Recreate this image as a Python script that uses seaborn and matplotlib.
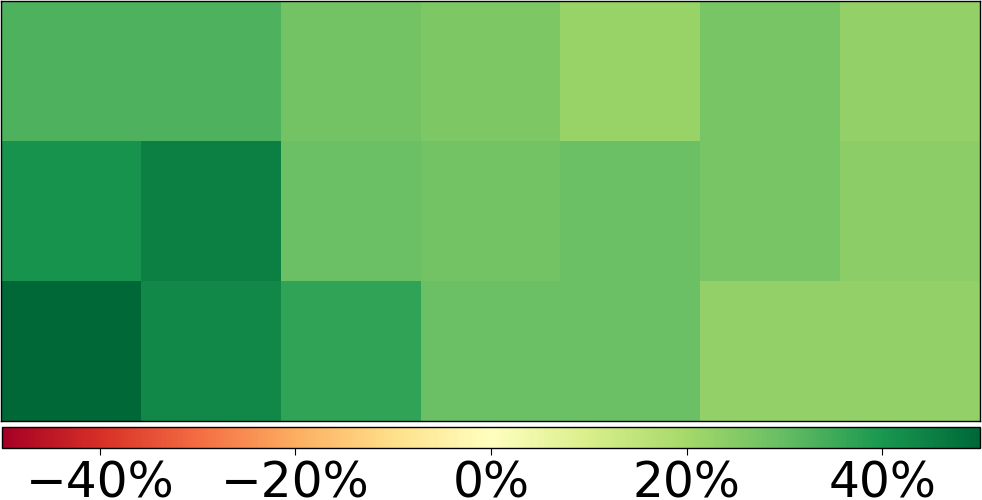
import numpy as np
import pandas as pd
import seaborn as sns
import matplotlib
matplotlib.use("Agg")
import matplotlib.pyplot as plt
from matplotlib.ticker import FuncFormatter

rows = ["r1", "r2", "r3"]
cols = ["c1", "c2", "c3", "c4", "c5", "c6", "c7"]
row1 = [33, 33, 28, 26.5, 22, 27, 23]
row2 = [41, 45, 29, 28, 29, 27, 24]
row3 = [50, 43, 37, 29, 29, 23, 23]

df = pd.DataFrame([row1, row2, row3], index=rows, columns=cols)

fig = plt.figure(figsize=(9.82, 5.0), dpi=100)
ax = fig.add_axes([1/982, 79/500, 979/982, 420/500])
cax = fig.add_axes([2/982, 52/500, 978/982, 21/500])

sns.heatmap(df, ax=ax, cmap="RdYlGn", vmin=-50, vmax=50, cbar=True, cbar_ax=cax,
            cbar_kws={"orientation": "horizontal",
                      "format": FuncFormatter(lambda v, p: f"{v:.0f}%".replace("-", "\u2212"))})
ax.set_xticks([])
ax.set_yticks([])
ax.set_xlabel("")
ax.set_ylabel("")
for s in ax.spines.values():
    s.set_visible(True)
    s.set_color("black")
    s.set_linewidth(1)

cb = ax.collections[0].colorbar
cb.set_ticks([-40, -20, 0, 20, 40])
cb.ax.tick_params(labelsize=35, length=4.9)
cb.outline.set_visible(True)
cb.outline.set_edgecolor("black")
cb.outline.set_linewidth(1)

fig.savefig("out.png", dpi=100)
